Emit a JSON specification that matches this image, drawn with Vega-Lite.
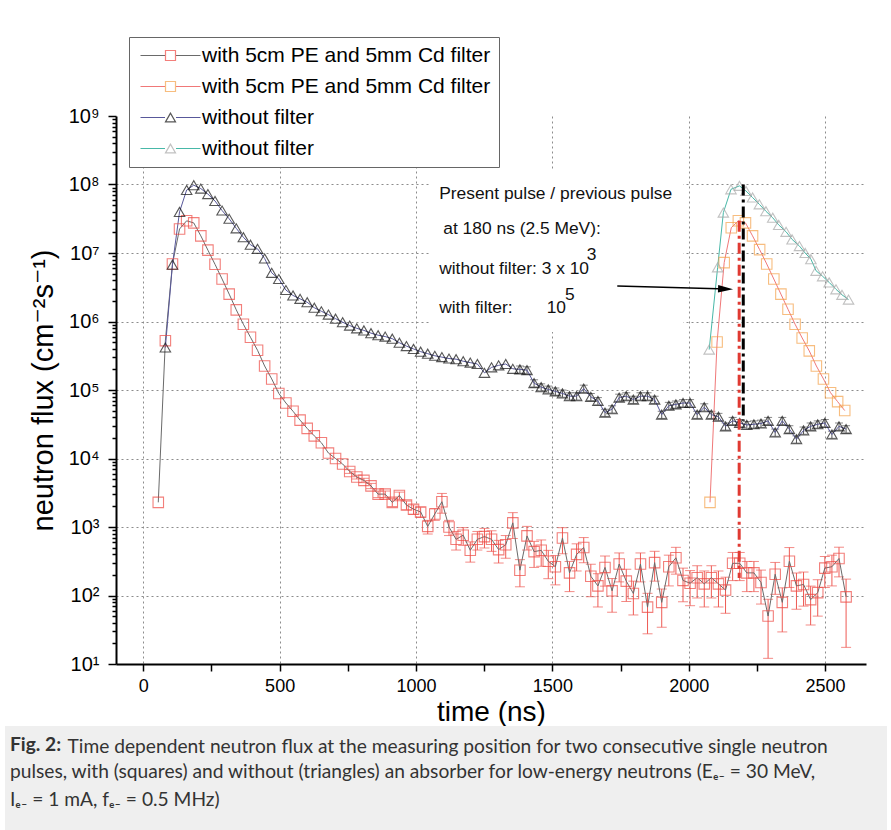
{
"$schema": "https://vega.github.io/schema/vega-lite/v6.json",
"padding": {"left": 5, "top": 36, "right": 4, "bottom": 0},
"background": "white",
"config": {"font": "Liberation Sans", "view": {"stroke": null}},
"datasets": {
"pts": [
{"s":"s1","t":55,"f":2290},{"s":"s1","t":81,"f":525000},{"s":"s1","t":107,"f":6920000},{"s":"s1","t":133,"f":22400000},{"s":"s1","t":159,"f":29500000},{"s":"s1","t":185,"f":27500000},{"s":"s1","t":211,"f":17800000},{"s":"s1","t":237,"f":11000000},{"s":"s1","t":263,"f":6840000},{"s":"s1","t":289,"f":4170000},{"s":"s1","t":315,"f":2510000},{"s":"s1","t":341,"f":1480000},{"s":"s1","t":367,"f":912000},{"s":"s1","t":393,"f":589000},{"s":"s1","t":419,"f":380000},{"s":"s1","t":445,"f":224000},{"s":"s1","t":471,"f":145000},{"s":"s1","t":497,"f":89100},{"s":"s1","t":523,"f":64600},{"s":"s1","t":549,"f":49000},{"s":"s1","t":575,"f":36300},{"s":"s1","t":601,"f":27500},{"s":"s1","t":627,"f":21400},{"s":"s1","t":653,"f":17000},{"s":"s1","t":679,"f":12000},{"s":"s1","t":705,"f":10000},{"s":"s1","t":731,"f":8320},
{"s":"s1","t":757,"f":6460,"e":400},{"s":"s1","t":783,"f":5370,"e":350},{"s":"s1","t":809,"f":4790,"e":350},{"s":"s1","t":835,"f":3980,"e":350},{"s":"s1","t":861,"f":3020,"e":330},{"s":"s1","t":887,"f":3020,"e":330},{"s":"s1","t":913,"f":2290,"e":300},{"s":"s1","t":939,"f":2880,"e":350},{"s":"s1","t":965,"f":2090,"e":300},{"s":"s1","t":991,"f":1820,"e":280},{"s":"s1","t":1017,"f":1660,"e":280},{"s":"s1","t":1043,"f":1020,"e":230},{"s":"s1","t":1069,"f":1550,"e":300},{"s":"s1","t":1095,"f":2340,"e":750},{"s":"s1","t":1121,"f":1000,"e":250},{"s":"s1","t":1147,"f":661,"e":200},{"s":"s1","t":1173,"f":759,"e":220},{"s":"s1","t":1199,"f":457,"e":150},{"s":"s1","t":1225,"f":661,"e":200},{"s":"s1","t":1251,"f":724,"e":230},{"s":"s1","t":1277,"f":661,"e":220},{"s":"s1","t":1303,"f":468,"e":170},{"s":"s1","t":1329,"f":550,"e":200},{"s":"s1","t":1355,"f":1150,"e":470},{"s":"s1","t":1381,"f":234,"e":100},{"s":"s1","t":1407,"f":741,"e":280},{"s":"s1","t":1433,"f":437,"e":180},{"s":"s1","t":1459,"f":457,"e":190},{"s":"s1","t":1485,"f":316,"e":140},{"s":"s1","t":1511,"f":263,"e":120},{"s":"s1","t":1537,"f":692,"e":285},{"s":"s1","t":1563,"f":214,"e":100},{"s":"s1","t":1589,"f":398,"e":170},{"s":"s1","t":1615,"f":501,"e":200},{"s":"s1","t":1641,"f":191,"e":95},{"s":"s1","t":1667,"f":138,"e":70},{"s":"s1","t":1693,"f":257,"e":120},{"s":"s1","t":1719,"f":117,"e":60},{"s":"s1","t":1745,"f":288,"e":130},{"s":"s1","t":1771,"f":162,"e":80},{"s":"s1","t":1797,"f":107,"e":55},{"s":"s1","t":1823,"f":288,"e":130},{"s":"s1","t":1849,"f":67.6,"e":40},{"s":"s1","t":1875,"f":302,"e":140},{"s":"s1","t":1901,"f":79.4,"e":45},{"s":"s1","t":1927,"f":263,"e":125},{"s":"s1","t":1953,"f":355,"e":150},{"s":"s1","t":1979,"f":166,"e":85},{"s":"s1","t":2005,"f":151,"e":80},{"s":"s1","t":2031,"f":182,"e":90},{"s":"s1","t":2057,"f":148,"e":80},{"s":"s1","t":2083,"f":182,"e":90},{"s":"s1","t":2109,"f":148,"e":80},{"s":"s1","t":2135,"f":120,"e":65},{"s":"s1","t":2161,"f":295,"e":130},{"s":"s1","t":2187,"f":295,"e":130},{"s":"s1","t":2213,"f":214,"e":100},{"s":"s1","t":2239,"f":214,"e":100},{"s":"s1","t":2265,"f":155,"e":80},{"s":"s1","t":2291,"f":50.1,"e":38},{"s":"s1","t":2317,"f":204,"e":100},{"s":"s1","t":2343,"f":79.4,"e":50},{"s":"s1","t":2369,"f":316,"e":185},{"s":"s1","t":2395,"f":138,"e":75},{"s":"s1","t":2421,"f":145,"e":75},{"s":"s1","t":2447,"f":87.1,"e":50},{"s":"s1","t":2473,"f":110,"e":60},{"s":"s1","t":2499,"f":251,"e":120},{"s":"s1","t":2525,"f":263,"e":125},{"s":"s1","t":2551,"f":347,"e":160},{"s":"s1","t":2577,"f":95.5,"e":78},
{"s":"s2","t":2078,"f":2290},{"s":"s2","t":2104,"f":501000},{"s":"s2","t":2130,"f":7240000},{"s":"s2","t":2156,"f":23400000},{"s":"s2","t":2182,"f":29500000},{"s":"s2","t":2208,"f":27500000},{"s":"s2","t":2234,"f":17800000},{"s":"s2","t":2260,"f":11200000},{"s":"s2","t":2286,"f":6920000},{"s":"s2","t":2312,"f":4170000},{"s":"s2","t":2338,"f":2510000},{"s":"s2","t":2364,"f":1510000},{"s":"s2","t":2390,"f":912000},{"s":"s2","t":2416,"f":575000},{"s":"s2","t":2442,"f":372000},{"s":"s2","t":2468,"f":224000},{"s":"s2","t":2494,"f":145000},{"s":"s2","t":2520,"f":91200},{"s":"s2","t":2546,"f":67600},{"s":"s2","t":2572,"f":50100},
{"s":"s3","t":81,"f":417000},{"s":"s3","t":107,"f":6760000},{"s":"s3","t":133,"f":39800000},{"s":"s3","t":159,"f":83200000},{"s":"s3","t":185,"f":97700000},{"s":"s3","t":211,"f":87100000},{"s":"s3","t":237,"f":72400000},{"s":"s3","t":263,"f":57500000},{"s":"s3","t":289,"f":41700000},{"s":"s3","t":315,"f":31600000},{"s":"s3","t":341,"f":22900000},{"s":"s3","t":367,"f":17000000},{"s":"s3","t":393,"f":13200000},{"s":"s3","t":419,"f":11500000},{"s":"s3","t":445,"f":8320000},{"s":"s3","t":471,"f":5130000},{"s":"s3","t":497,"f":4170000},{"s":"s3","t":523,"f":2880000},{"s":"s3","t":549,"f":2400000},{"s":"s3","t":575,"f":2140000},{"s":"s3","t":601,"f":1910000},{"s":"s3","t":627,"f":1590000},{"s":"s3","t":653,"f":1410000},{"s":"s3","t":679,"f":1260000},{"s":"s3","t":705,"f":1100000},{"s":"s3","t":731,"f":977000},{"s":"s3","t":757,"f":871000},{"s":"s3","t":783,"f":794000},{"s":"s3","t":809,"f":741000},{"s":"s3","t":835,"f":676000},{"s":"s3","t":861,"f":631000},{"s":"s3","t":887,"f":603000},{"s":"s3","t":913,"f":562000},{"s":"s3","t":939,"f":490000},{"s":"s3","t":965,"f":437000},{"s":"s3","t":991,"f":398000},{"s":"s3","t":1017,"f":363000},{"s":"s3","t":1043,"f":339000},{"s":"s3","t":1069,"f":316000},{"s":"s3","t":1095,"f":302000},{"s":"s3","t":1121,"f":288000},{"s":"s3","t":1147,"f":282000},{"s":"s3","t":1173,"f":263000},{"s":"s3","t":1199,"f":251000},{"s":"s3","t":1225,"f":240000},{"s":"s3","t":1251,"f":178000},{"s":"s3","t":1277,"f":214000},{"s":"s3","t":1303,"f":229000},{"s":"s3","t":1329,"f":240000},{"s":"s3","t":1355,"f":204000},
{"s":"s3","t":1381,"f":200000,"e":24000},{"s":"s3","t":1407,"f":195000,"e":23000},{"s":"s3","t":1433,"f":126000,"e":15000},{"s":"s3","t":1459,"f":110000,"e":13000},{"s":"s3","t":1485,"f":102000,"e":12000},{"s":"s3","t":1511,"f":95500,"e":11500},{"s":"s3","t":1537,"f":89100,"e":10700},{"s":"s3","t":1563,"f":81300,"e":9800},{"s":"s3","t":1589,"f":81300,"e":9800},{"s":"s3","t":1615,"f":105000,"e":12600},{"s":"s3","t":1641,"f":79400,"e":9500},{"s":"s3","t":1667,"f":69200,"e":8300},{"s":"s3","t":1693,"f":46800,"e":5600},{"s":"s3","t":1719,"f":52500,"e":6300},{"s":"s3","t":1745,"f":77600,"e":9300},{"s":"s3","t":1771,"f":81300,"e":9800},{"s":"s3","t":1797,"f":72400,"e":8700},{"s":"s3","t":1823,"f":81300,"e":9800},{"s":"s3","t":1849,"f":81300,"e":9800},{"s":"s3","t":1875,"f":72400,"e":8700},{"s":"s3","t":1901,"f":43700,"e":5200},{"s":"s3","t":1927,"f":58900,"e":7100},{"s":"s3","t":1953,"f":61700,"e":7400},{"s":"s3","t":1979,"f":64600,"e":7800},{"s":"s3","t":2005,"f":64600,"e":7800},{"s":"s3","t":2031,"f":43700,"e":5200},{"s":"s3","t":2057,"f":56200,"e":6700},{"s":"s3","t":2083,"f":43700,"e":5200},{"s":"s3","t":2109,"f":40700,"e":4900},{"s":"s3","t":2135,"f":29500,"e":3500},{"s":"s3","t":2161,"f":35500,"e":4300},{"s":"s3","t":2187,"f":33100,"e":4000},{"s":"s3","t":2213,"f":30900,"e":3700},{"s":"s3","t":2239,"f":31600,"e":3800},{"s":"s3","t":2265,"f":32400,"e":3900},{"s":"s3","t":2291,"f":35500,"e":4300},{"s":"s3","t":2317,"f":24000,"e":2900},{"s":"s3","t":2343,"f":35500,"e":4300},{"s":"s3","t":2369,"f":26900,"e":3200},{"s":"s3","t":2395,"f":19100,"e":2300},{"s":"s3","t":2421,"f":25700,"e":3100},{"s":"s3","t":2447,"f":29500,"e":3500},{"s":"s3","t":2473,"f":31600,"e":3800},{"s":"s3","t":2499,"f":33100,"e":4000},{"s":"s3","t":2525,"f":22400,"e":2700},{"s":"s3","t":2551,"f":29500,"e":3500},{"s":"s3","t":2577,"f":26900,"e":3200},
{"s":"s4","t":2075,"f":389000},{"s":"s4","t":2106,"f":6170000},{"s":"s4","t":2127,"f":38900000},{"s":"s4","t":2155,"f":85100000},{"s":"s4","t":2186,"f":95500000},{"s":"s4","t":2210,"f":80400000},{"s":"s4","t":2234,"f":64600000},{"s":"s4","t":2259,"f":51300000},{"s":"s4","t":2283,"f":40700000},{"s":"s4","t":2308,"f":32700000},{"s":"s4","t":2330,"f":25700000},{"s":"s4","t":2357,"f":20400000},{"s":"s4","t":2379,"f":15800000},{"s":"s4","t":2406,"f":12600000},{"s":"s4","t":2427,"f":10000000},{"s":"s4","t":2448,"f":8130000},{"s":"s4","t":2467,"f":5500000},{"s":"s4","t":2491,"f":4570000},{"s":"s4","t":2515,"f":3720000},{"s":"s4","t":2540,"f":2950000},{"s":"s4","t":2562,"f":2450000},{"s":"s4","t":2586,"f":2090000}
],
"box": [{"t":1050,"t2":1980,"f":160000000,"f2":700000}],
"vred": [{"t":2185,"f":29500000,"f2":180}],
"vblack": [{"t":2200,"f":100000000,"f2":35500}],
"arrow": [{"t":1738,"t2":2140,"f":3300000,"f2":2980000}],
"head": [{"t":2135,"f":2980000}],
"txt": [
{"t":1085,"f":72600000,"txt":"Present pulse / previous pulse"},
{"t":1100,"f":22400000,"txt":"at 180 ns (2.5 MeV):"},
{"t":1085,"f":5840000,"txt":"without filter: 3 x 10"},
{"t":1626,"f":9250000,"txt":"3"},
{"t":1085,"f":1570000,"txt":"with filter:"},
{"t":1479,"f":1570000,"txt":"10"},
{"t":1546,"f":2440000,"txt":"5"}
]
},
"spacing": 0,
"vconcat": [
{
"spacing": 23,
"hconcat": [
{"width": 1, "height": 1, "data": {"values": []}, "mark": {"type": "point", "opacity": 0}, "encoding": {}},
{
"width": 750,
"height": 548,
"encoding": {
"x": {"field": "t", "type": "quantitative", "title": "time (ns)",
 "scale": {"domain": [-100, 2650], "nice": false, "zero": false},
 "axis": {"values": [0,250,500,750,1000,1250,1500,1750,2000,2250,2500],
  "labelExpr": "datum.value % 500 === 0 ? format(datum.value, 'd') : ''",
  "grid": true, "gridOpacity": {"condition": {"test": "datum.value % 500 === 0", "value": 1}, "value": 0},
  "gridDash": [2, 3], "gridColor": "#8c8c8c", "gridWidth": 1,
  "tickSize": 7, "tickColor": "black", "tickWidth": 1.5,
  "domainColor": "black", "domainWidth": 2,
  "labelFontSize": 18, "labelColor": "black", "labelPadding": 6,
  "titleFontSize": 28, "titleFontWeight": "normal", "titleColor": "black", "titlePadding": 3}},
"y": {"field": "f", "type": "quantitative", "title": "neutron flux (cm⁻²s⁻¹)",
 "scale": {"type": "log", "domain": [10, 1000000000], "nice": false},
 "axis": {"values": [10,20,30,40,50,60,70,80,90,100,200,300,400,500,600,700,800,900,1000,2000,3000,4000,5000,6000,7000,8000,9000,10000,20000,30000,40000,50000,60000,70000,80000,90000,100000,200000,300000,400000,500000,600000,700000,800000,900000,1e6,2e6,3e6,4e6,5e6,6e6,7e6,8e6,9e6,1e7,2e7,3e7,4e7,5e7,6e7,7e7,8e7,9e7,1e8,2e8,3e8,4e8,5e8,6e8,7e8,8e8,9e8,1e9],
  "labelExpr": "abs(log(datum.value)/LN10 - round(log(datum.value)/LN10)) < 0.01 ? '10' + ['⁰','¹','²','³','⁴','⁵','⁶','⁷','⁸','⁹'][round(log(datum.value)/LN10)] : ''",
  "grid": true,
  "gridOpacity": {"condition": {"test": "abs(log(datum.value)/LN10 - round(log(datum.value)/LN10)) < 0.01 && datum.value > 50 && datum.value < 5e8", "value": 1}, "value": 0},
  "gridDash": [2, 3], "gridColor": "#8c8c8c", "gridWidth": 1,
  "tickSize": {"condition": {"test": "abs(log(datum.value)/LN10 - round(log(datum.value)/LN10)) < 0.01", "value": 8}, "value": 4},
  "tickColor": "black", "tickWidth": 1.5,
  "domainColor": "black", "domainWidth": 2,
  "labelFontSize": 20, "labelColor": "black", "labelPadding": 9, "labelFont": "Liberation Sans, DejaVu Sans",
  "titleFontSize": 29, "titleFontWeight": "normal", "titleColor": "black", "titlePadding": 10, "titleFont": "Liberation Sans, DejaVu Sans"}}
},
"layer": [
{"data": {"name": "box"}, "mark": {"type": "rect", "color": "white"},
 "encoding": {"x2": {"field": "t2"}, "y2": {"field": "f2"}}},
{"data": {"name": "pts"}, "transform": [{"filter": "datum.s === 's1' && datum.e > 0"}],
 "mark": {"type": "errorbar", "color": "#ee5a54", "thickness": 1, "ticks": {"size": 10}},
 "encoding": {"yError": {"field": "e"}}},
{"data": {"name": "pts"}, "transform": [{"filter": "datum.s === 's3' && datum.e > 0"}],
 "mark": {"type": "errorbar", "color": "#555555", "thickness": 1, "ticks": {"size": 8}},
 "encoding": {"yError": {"field": "e"}}},
{"data": {"name": "pts"}, "mark": {"type": "line", "strokeWidth": 1},
 "encoding": {"stroke": {"field": "s", "type": "nominal",
  "scale": {"domain": ["s1","s2","s3","s4"], "range": ["#6a6a6a","#f07878","#58589a","#48b8a8"]},
  "legend": {"orient": "none", "legendX": 124, "legendY": -79, "title": null,
   "symbolType": "M-6,0H-1.1M1.1,0H6", "symbolSize": 100, "symbolStrokeWidth": 1.2,
   "symbolOffset": 23, "labelOffset": 21, "labelFontSize": 21, "labelColor": "black", "labelLimit": 400,
   "rowPadding": 9, "padding": 8, "fillColor": "white", "strokeColor": "#666666", "zindex": 1,
   "labelExpr": "datum.value === 's1' || datum.value === 's2' ? 'with 5cm PE and 5mm Cd filter' : 'without filter'"}}}},
{"data": {"name": "pts"}, "mark": {"type": "point", "filled": false, "strokeWidth": 1.1, "size": 110},
 "encoding": {
  "color": {"field": "s", "type": "nominal", "scale": {"range": ["#ee4a44","#f5a24a","#111111","#a8a8a8"]},
   "legend": {"orient": "none", "legendX": 124, "legendY": -79, "title": null,
    "symbolSize": 100, "symbolStrokeWidth": 1.2, "symbolOffset": 23, "labelOffset": 21,
    "labelFontSize": 21, "labelOpacity": 0, "labelLimit": 400, "rowPadding": 9, "padding": 8, "zindex": 2,
    "labelExpr": "datum.value === 's1' || datum.value === 's2' ? 'with 5cm PE and 5mm Cd filter' : 'without filter'"}},
  "shape": {"field": "s", "type": "nominal", "scale": {"range": ["square","square","triangle-up","triangle-up"]},
   "legend": {"orient": "none", "legendX": 124, "legendY": -79, "title": null,
    "symbolSize": 100, "symbolStrokeWidth": 1.2, "symbolOffset": 23, "labelOffset": 21,
    "labelFontSize": 21, "labelOpacity": 0, "labelLimit": 400, "rowPadding": 9, "padding": 8, "zindex": 2,
    "labelExpr": "datum.value === 's1' || datum.value === 's2' ? 'with 5cm PE and 5mm Cd filter' : 'without filter'"}}}},
{"data": {"name": "vred"}, "mark": {"type": "rule", "color": "#e03a32", "strokeWidth": 3, "strokeDash": [11, 4, 3, 4]},
 "encoding": {"y2": {"field": "f2"}}},
{"data": {"name": "vblack"}, "mark": {"type": "rule", "color": "black", "strokeWidth": 3, "strokeDash": [11, 4, 3, 4]},
 "encoding": {"y2": {"field": "f2"}}},
{"data": {"name": "arrow"}, "mark": {"type": "rule", "color": "black", "strokeWidth": 1.5},
 "encoding": {"x2": {"field": "t2"}, "y2": {"field": "f2"}}},
{"data": {"name": "head"}, "mark": {"type": "point", "shape": "M-1,-0.5L1,0L-1,0.5Z", "filled": true, "color": "black", "size": 225, "angle": 2, "opacity": 1},
 "encoding": {}},
{"data": {"name": "txt"}, "mark": {"type": "text", "align": "left", "baseline": "middle", "fontSize": 17.4, "color": "#111111"},
 "encoding": {"text": {"field": "txt"}}}
]
}
]
},
{
"width": 882, "height": 106,
"data": {"values": []},
"mark": {"type": "point", "opacity": 0},
"encoding": {
 "x": {"datum": 0, "type": "quantitative", "scale": {"domain": [0, 1]},
  "axis": {"orient": "top", "title": "Time dependent neutron flux at the measuring position for two consecutive single neutron",
   "ticks": false, "labels": false, "domain": false, "grid": false,
   "titleFont": "Lato", "titleFontSize": 19.2, "titleFontWeight": "normal", "titleColor": "#333333",
   "titleAnchor": "start", "titleAlign": "left", "titleBaseline": "middle", "titleX": 62, "titleY": 20}}
},
"view": {"fill": "#efefef", "stroke": null},
"title": {"text": "Fig. 2:",
 "subtitle": ["pulses, with (squares) and without (triangles) an absorber for low-energy neutrons (Eₑ₋ = 30 MeV,", "Iₑ₋ = 1 mA, fₑ₋ = 0.5 MHz)"],
 "anchor": "start", "frame": "group", "orient": "top", "offset": -84, "dx": 5,
 "font": "Lato", "fontSize": 19.2, "fontWeight": "bold", "color": "#333333",
 "subtitleFont": "Lato", "subtitleFontSize": 19.2, "subtitleColor": "#333333", "subtitleLineHeight": 27.5, "subtitlePadding": 8.3}
}
]
}
